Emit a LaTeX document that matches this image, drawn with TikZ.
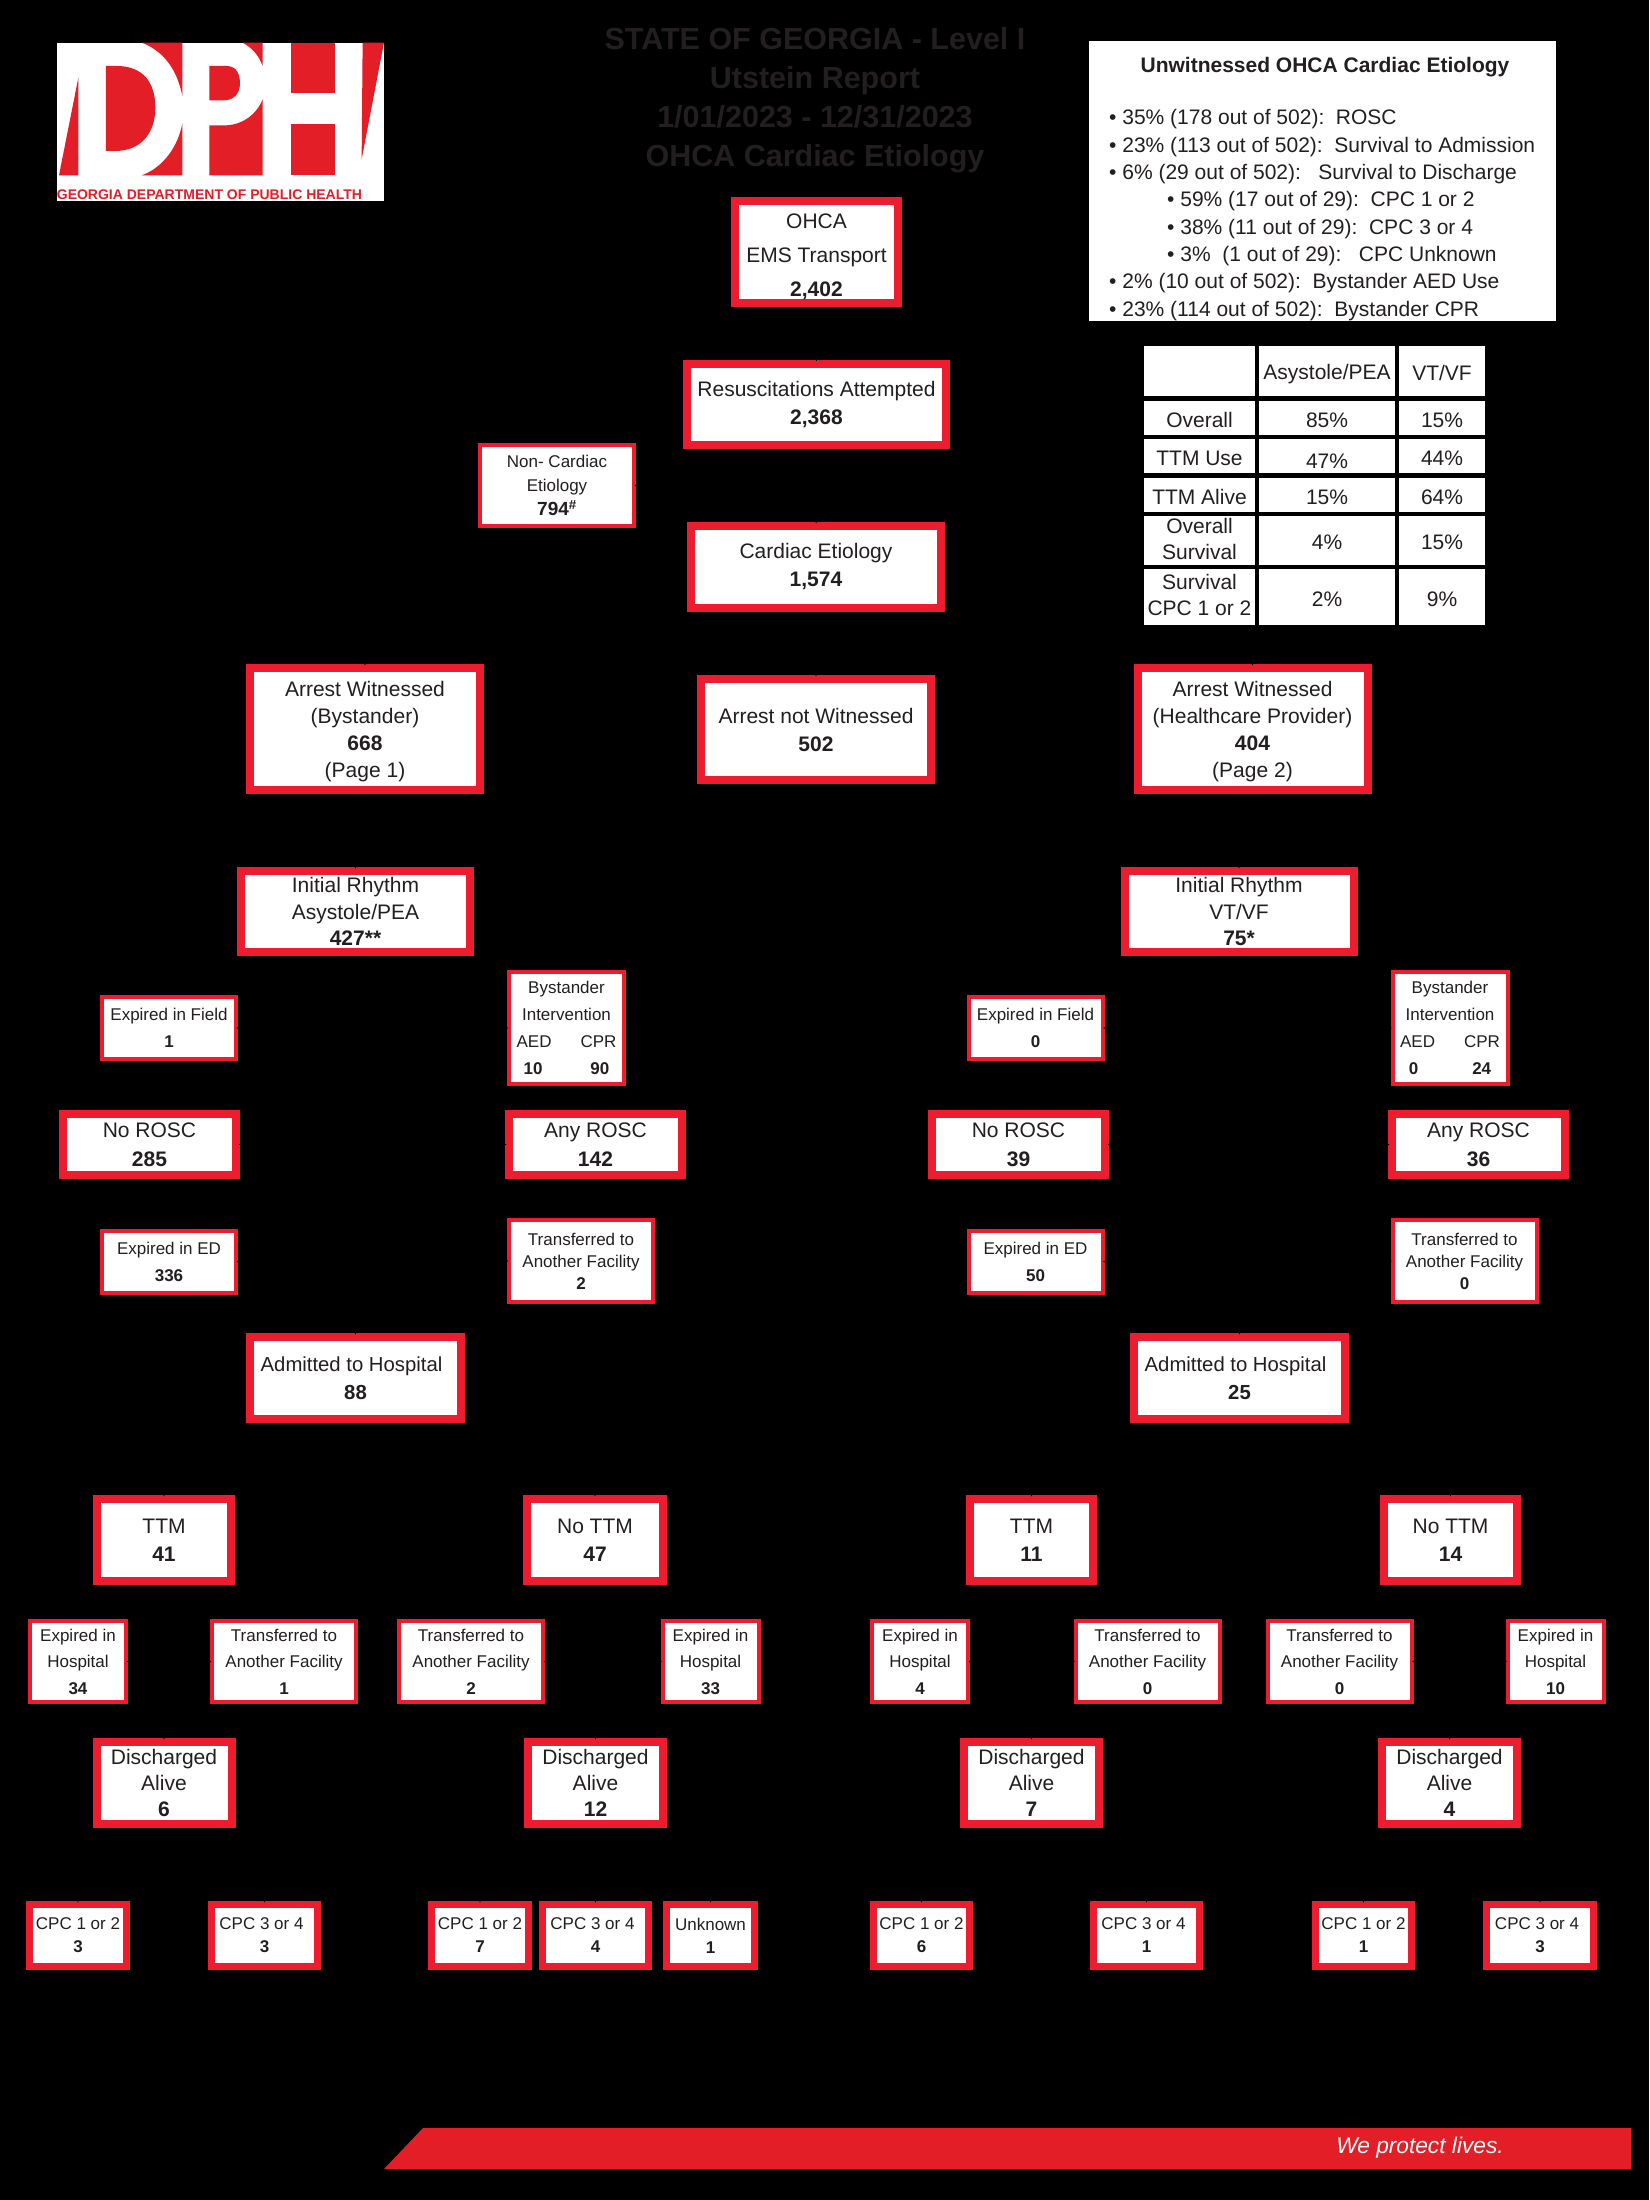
\documentclass[tikz,border=0pt]{standalone}
\usepackage{fontspec}
\setmainfont{Liberation Sans}
\usetikzlibrary{arrows.meta}
\definecolor{dphred}{HTML}{ED1C2E}
\definecolor{logored}{HTML}{E31E26}
\definecolor{ink}{HTML}{231F20}
\newcommand{\tope}{\leavevmode\vrule height .75\baselineskip depth .25\baselineskip width 0pt\relax}
\newcommand{\cellstrut}{\leavevmode\vrule height .85\baselineskip depth .15\baselineskip width 0pt\relax}
\newcommand{\logodph}[1]{%
  \begin{scope}[shift={(#1)}, x=0.3333pt, y=-0.3333pt]
    \fill[white] (20,20) rectangle (1002,495);
    \fill[logored] (85,125) -- (85,418) -- (27,418) -- cycle;
    \fill[logored] (168,90) -- (200,90) .. controls (280,90) and (316,140) .. (316,215) .. controls (316,295) and (270,345) .. (195,345) -- (168,345) -- cycle;
    \fill[logored] (275,20) -- (397,20) -- (397,180) .. controls (380,90) and (330,40) .. (275,20) -- cycle;
    \fill[logored] (397,262) -- (397,418) -- (275,418) .. controls (340,395) and (385,330) .. (397,262) -- cycle;
    \fill[logored] (478,90) -- (530,90) .. controls (560,90) and (570,115) .. (570,142) .. controls (570,175) and (550,193) .. (520,193) -- (478,193) -- cycle;
    \fill[logored] (578,20) -- (638,20) -- (638,90) .. controls (625,55) and (605,35) .. (578,20) -- cycle;
    \fill[logored] (478,268) -- (530,268) .. controls (580,265) and (620,235) .. (638,190) -- (638,418) -- (478,418) -- cycle;
    \fill[logored] (722,20) rectangle (855,172);
    \fill[logored] (722,263) rectangle (855,418);
    \fill[logored] (938,20) -- (1002,20) -- (935,370) -- cycle;
    \node[anchor=west, inner sep=0pt, text=logored, font=\fontsize{14}{16}\selectfont\bfseries] (logotext) at (20,477) {GEORGIA DEPARTMENT OF PUBLIC HEALTH};
  \end{scope}}

\begin{document}
\begin{tikzpicture}[x=1pt, y=-1pt,
  bigbox/.style={draw=dphred, line width=8pt, fill=white, inner sep=0pt, align=center, text=ink,
    font=\fontsize{21}{#1}\selectfont},
  bigbox/.default=28,
  cpcbox/.style={bigbox=23, line width=7pt, font=\fontsize{17}{23}\selectfont, minimum height=62pt},
  smallbox/.style={draw=dphred, line width=4pt, fill=white, inner sep=0pt, align=center, text=ink,
    font=\fontsize{17}{#1}\selectfont},
  smallbox/.default=27,
  roscbox/.style={bigbox=29, minimum width=173pt, minimum height=61pt},
  ttmbox/.style={bigbox=28, minimum height=82pt},
  dischbox/.style={bigbox=26, minimum width=135pt, minimum height=82pt},
  admbox/.style={bigbox=28, font=\fontsize{20.3}{28}\selectfont, minimum width=211pt, minimum height=82pt},
  arrestbox/.style={bigbox=27, minimum width=230pt, minimum height=122pt},
  initbox/.style={bigbox=26.5, minimum width=229pt, minimum height=81pt},
  fieldbox/.style={smallbox=27, minimum width=134pt, minimum height=62pt},
  bystbox/.style={smallbox=27, minimum width=115pt, minimum height=112pt},
  transbox/.style={smallbox=22, minimum width=144pt, minimum height=82pt},
  hospbox/.style={smallbox=26.5, minimum width=96pt, minimum height=81pt},
  hosptrans/.style={smallbox=26.5, minimum width=144pt, minimum height=81pt},
  cell/.style={fill=white, inner sep=0pt, align=center, text=ink, font=\fontsize{21}{26}\selectfont,
    execute at begin node=\cellstrut, execute at end node=\cellstrut},
  conn/.style={black, line width=1.5pt, -{Stealth[length=7pt, width=6pt]}, shorten >=-1.5pt},
  trunk/.style={black, line width=1.5pt}]
  \fill[black] (0,0) rectangle (1649,2200);
  \useasboundingbox (0,0) rectangle (1649,2200);
  \logodph{50,36}
  \node[align=center, text=ink, inner sep=0pt, font=\fontsize{30.5}{39}\selectfont\bfseries] (title) at (815,100.5)
    {STATE OF GEORGIA - Level I\\Utstein Report\\1/01/2023 - 12/31/2023\\OHCA Cardiac Etiology};

  \node[fill=white, inner sep=0pt, minimum width=467pt, minimum height=280pt] (statbox) at (1322.5,181) {};
  \node[inner sep=0pt, text=ink, font=\fontsize{21}{24}\selectfont\bfseries] (stathead) at (1325,67) {Unwitnessed OHCA Cardiac Etiology};
  \node[anchor=north west, align=left, inner sep=0pt, text=ink, font=\fontsize{21}{27.3}\selectfont,
    execute at begin node=\tope] (statlist) at (1109,109.5)
    {• 35\% (178 out of 502):\ \ ROSC\\
     • 23\% (113 out of 502):\ \ Survival to Admission\\
     • 6\% (29 out of 502):\ \ \ Survival to Discharge\\
     \hspace*{58pt}• 59\% (17 out of 29):\ \ CPC 1 or 2\\
     \hspace*{58pt}• 38\% (11 out of 29):\ \ CPC 3 or 4\\
     \hspace*{58pt}• 3\%\ \ (1 out of 29):\ \ \ CPC Unknown\\
     • 2\% (10 out of 502):\ \ Bystander AED Use\\
     • 23\% (114 out of 502):\ \ Bystander CPR};

  \node[cell, minimum width=111pt, minimum height=50pt] (c00) at (1199.5,371) {};
  \node[cell, minimum width=136pt, minimum height=50pt] (c01) at (1327,371) {Asystole/PEA};
  \node[cell, minimum width=86pt, minimum height=50pt] (c02) at (1442,371) {VT/VF};
  \node[cell, minimum width=111pt, minimum height=34pt] (c10) at (1199.5,418) {Overall};
  \node[cell, minimum width=136pt, minimum height=34pt] (c11) at (1327,418) {85\%};
  \node[cell, minimum width=86pt, minimum height=34pt] (c12) at (1442,418) {15\%};
  \node[cell, minimum width=111pt, minimum height=34pt] (c20) at (1199.5,456) {TTM Use};
  \node[cell, minimum width=136pt, minimum height=34pt] (c21) at (1327,456) {\raisebox{-3pt}{47\%}};
  \node[cell, minimum width=86pt, minimum height=34pt] (c22) at (1442,456) {44\%};
  \node[cell, minimum width=111pt, minimum height=34pt] (c30) at (1199.5,495) {TTM Alive};
  \node[cell, minimum width=136pt, minimum height=34pt] (c31) at (1327,495) {15\%};
  \node[cell, minimum width=86pt, minimum height=34pt] (c32) at (1442,495) {64\%};
  \node[cell, minimum width=111pt, minimum height=49pt] (c40) at (1199.5,540.5) {Overall\\Survival};
  \node[cell, minimum width=136pt, minimum height=49pt] (c41) at (1327,540.5) {4\%};
  \node[cell, minimum width=86pt, minimum height=49pt] (c42) at (1442,540.5) {15\%};
  \node[cell, minimum width=111pt, minimum height=56pt] (c50) at (1199.5,597) {Survival\\CPC 1 or 2};
  \node[cell, minimum width=136pt, minimum height=56pt] (c51) at (1327,597) {2\%};
  \node[cell, minimum width=86pt, minimum height=56pt] (c52) at (1442,597) {9\%};

  \node[bigbox=34, minimum width=163pt, minimum height=102pt] (ohca) at (816.5,252) {\rule{0pt}{25pt}OHCA\\EMS Transport\\\textbf{2,402}};
  \node[bigbox, minimum width=259pt, minimum height=81pt] (resus) at (816.5,404.5) {Resuscitations Attempted\\\textbf{2,368}};
  \node[smallbox=24, minimum width=154pt, minimum height=81pt] (noncard) at (557,485.5) {Non- Cardiac\\Etiology\\\fontsize{19}{24}\selectfont\textbf{794\textsuperscript{\#}}};
  \node[bigbox, minimum width=250pt, minimum height=82pt] (cardiac) at (816,567) {Cardiac Etiology\\\textbf{1,574}};
  \node[arrestbox] (witl) at (365,729) {Arrest Witnessed\\(Bystander)\\\textbf{668}\\\smash{(Page 1)}};
  \node[bigbox, minimum width=230pt, minimum height=101pt] (notwit) at (816,729.5) {Arrest not Witnessed\\\textbf{502}};
  \node[arrestbox] (witr) at (1252.5,729) {Arrest Witnessed\\(Healthcare Provider)\\\textbf{404}\\\smash{(Page 2)}};
  \node[initbox] (initl) at (355.5,911.5) {Initial Rhythm\\Asystole/PEA\\\textbf{427**}};
  \node[initbox] (initr) at (1239,911.5) {Initial Rhythm\\VT/VF\\\textbf{75*}};

  \node[fieldbox] (fieldl) at (169,1028) {Expired in Field\\\textbf{1}};
  \node[bystbox] (bystl) at (566.5,1028) {Bystander\\Intervention\\AED\hspace{29pt}CPR\\\textbf{10}\hspace{48pt}\textbf{90}};
  \node[roscbox] (noroscl) at (149.5,1144.5) {No ROSC\\\textbf{285}};
  \node[roscbox] (anyroscl) at (595.5,1144.5) {Any ROSC\\\textbf{142}};
  \node[fieldbox] (edl) at (169,1261.5) {Expired in ED\\\textbf{336}};
  \node[transbox] (transl) at (581,1261) {Transferred to\\Another Facility\hspace*{4pt}\\\textbf{2}};
  \node[admbox] (adml) at (355.5,1378) {Admitted to Hospital\hspace*{8pt}\\\textbf{88}};

  \node[fieldbox] (fieldr) at (1035.5,1028) {Expired in Field\\\textbf{0}};
  \node[bystbox] (bystr) at (1450,1028) {Bystander\\Intervention\\AED\hspace{29pt}CPR\\\textbf{0}\hspace{54pt}\textbf{24}};
  \node[roscbox] (noroscr) at (1018.5,1144.5) {No ROSC\\\textbf{39}};
  \node[roscbox] (anyroscr) at (1478.5,1144.5) {Any ROSC\\\textbf{36}};
  \node[fieldbox] (edr) at (1035.5,1261.5) {Expired in ED\\\textbf{50}};
  \node[transbox] (transr) at (1464.5,1261) {Transferred to\\Another Facility\hspace*{4pt}\\\textbf{0}};
  \node[admbox] (admr) at (1239.5,1378) {Admitted to Hospital\hspace*{8pt}\\\textbf{25}};

  \node[ttmbox, minimum width=134pt] (ttma) at (164,1540) {TTM\\\textbf{41}};
  \node[ttmbox, minimum width=136pt] (ttmb) at (595,1540) {No TTM\\\textbf{47}};
  \node[ttmbox, minimum width=123pt] (ttmc) at (1031.5,1540) {TTM\\\textbf{11}};
  \node[ttmbox, minimum width=133pt] (ttmd) at (1450.5,1540) {No TTM\\\textbf{14}};

  \node[hospbox] (expa) at (78,1661.5) {Expired in\\Hospital\\\textbf{34}};
  \node[hosptrans] (tra) at (284,1661.5) {Transferred to\\Another Facility\\\textbf{1}};
  \node[hosptrans] (trb) at (471,1661.5) {Transferred to\\Another Facility\\\textbf{2}};
  \node[hospbox] (expb) at (710.5,1661.5) {Expired in\\Hospital\\\textbf{33}};
  \node[hospbox] (expc) at (920,1661.5) {Expired in\\Hospital\\\textbf{4}};
  \node[hosptrans] (trc) at (1147.5,1661.5) {Transferred to\\Another Facility\\\textbf{0}};
  \node[hosptrans] (trd) at (1339.5,1661.5) {Transferred to\\Another Facility\\\textbf{0}};
  \node[hospbox] (expd) at (1555.5,1661.5) {Expired in\\Hospital\\\textbf{10}};

  \node[dischbox] (disa) at (164,1783) {Discharged\\Alive\\\textbf{6}};
  \node[dischbox] (disb) at (595.5,1783) {Discharged\\Alive\\\textbf{12}};
  \node[dischbox] (disc) at (1031.5,1783) {Discharged\\Alive\\\textbf{7}};
  \node[dischbox] (disd) at (1449.5,1783) {Discharged\\Alive\\\textbf{4}};

  \node[cpcbox, minimum width=97pt] (cpca) at (78,1935.5) {CPC 1 or 2\\\textbf{3}};
  \node[cpcbox, minimum width=106pt] (cpcb) at (264.5,1935.5) {CPC 3 or 4\hspace*{6pt}\\\textbf{3}};
  \node[cpcbox, minimum width=97pt] (cpcc) at (480,1935.5) {CPC 1 or 2\\\textbf{7}};
  \node[cpcbox, minimum width=106pt] (cpcd) at (595.5,1935.5) {CPC 3 or 4\hspace*{6pt}\\\textbf{4}};
  \node[cpcbox, minimum width=88pt] (unk) at (710.5,1935.5) {Unknown\\\textbf{1}};
  \node[cpcbox, minimum width=96pt] (cpce) at (921.5,1935.5) {CPC 1 or 2\\\textbf{6}};
  \node[cpcbox, minimum width=106pt] (cpcf) at (1146.5,1935.5) {CPC 3 or 4\hspace*{6pt}\\\textbf{1}};
  \node[cpcbox, minimum width=96pt] (cpcg) at (1363.5,1935.5) {CPC 1 or 2\\\textbf{1}};
  \node[cpcbox, minimum width=107pt] (cpch) at (1540,1935.5) {CPC 3 or 4\hspace*{6pt}\\\textbf{3}};

  \coordinate (buswit) at (816,640);
  \coordinate (businit) at (816,825);
  \coordinate (busttml) at (355.5,1455);
  \coordinate (busttmr) at (1239.5,1455);
  \coordinate (busa) at (164,1865);
  \coordinate (busb) at (595.5,1865);
  \coordinate (busc) at (1031.5,1865);
  \coordinate (busd) at (1449.5,1865);

  \draw[conn] (ohca) -- (resus);
  \draw[conn] (resus) -- (cardiac);
  \draw[conn] (resus.south |- noncard.east) -- (noncard.east);
  \draw[conn] (cardiac) -- (notwit);
  \draw[conn] (buswit) -| (witl.north);
  \draw[conn] (buswit) -| (witr.north);
  \draw[trunk] (notwit.south) -- (businit);
  \draw[conn] (businit) -| (initl.north);
  \draw[conn] (businit) -| (initr.north);

  \draw[conn] (initl.south) -- (adml.north);
  \draw[conn] (initl.south |- fieldl.east) -- (fieldl.east);
  \draw[conn] (initl.south |- bystl.west) -- (bystl.west);
  \draw[conn] (initl.south |- noroscl.east) -- (noroscl.east);
  \draw[conn] (initl.south |- anyroscl.west) -- (anyroscl.west);
  \draw[conn] (initl.south |- edl.east) -- (edl.east);
  \draw[conn] (initl.south |- transl.west) -- (transl.west);

  \draw[conn] (initr.south) -- (admr.north);
  \draw[conn] (initr.south |- fieldr.east) -- (fieldr.east);
  \draw[conn] (initr.south |- bystr.west) -- (bystr.west);
  \draw[conn] (initr.south |- noroscr.east) -- (noroscr.east);
  \draw[conn] (initr.south |- anyroscr.west) -- (anyroscr.west);
  \draw[conn] (initr.south |- edr.east) -- (edr.east);
  \draw[conn] (initr.south |- transr.west) -- (transr.west);

  \draw[trunk] (adml.south) -- (busttml);
  \draw[conn] (busttml) -| (ttma.north);
  \draw[conn] (busttml) -| (ttmb.north);
  \draw[trunk] (admr.south) -- (busttmr);
  \draw[conn] (busttmr) -| (ttmc.north);
  \draw[conn] (busttmr) -| (ttmd.north);

  \draw[conn] (ttma) -- (disa);
  \draw[conn] (ttma.south |- expa.east) -- (expa.east);
  \draw[conn] (ttma.south |- tra.west) -- (tra.west);
  \draw[conn] (ttmb) -- (disb);
  \draw[conn] (ttmb.south |- trb.east) -- (trb.east);
  \draw[conn] (ttmb.south |- expb.west) -- (expb.west);
  \draw[conn] (ttmc) -- (disc);
  \draw[conn] (ttmc.south |- expc.east) -- (expc.east);
  \draw[conn] (ttmc.south |- trc.west) -- (trc.west);
  \draw[conn] (ttmd) -- (disd);
  \draw[conn] (ttmd.south |- trd.east) -- (trd.east);
  \draw[conn] (ttmd.south |- expd.west) -- (expd.west);

  \draw[trunk] (disa.south) -- (busa);
  \draw[conn] (busa) -| (cpca.north);
  \draw[conn] (busa) -| (cpcb.north);
  \draw[trunk] (disb.south) -- (busb);
  \draw[conn] (busb) -| (cpcc.north);
  \draw[conn] (busb) -- (cpcd.north);
  \draw[conn] (busb) -| (unk.north);
  \draw[trunk] (disc.south) -- (busc);
  \draw[conn] (busc) -| (cpce.north);
  \draw[conn] (busc) -| (cpcf.north);
  \draw[trunk] (disd.south) -- (busd);
  \draw[conn] (busd) -| (cpcg.north);
  \draw[conn] (busd) -| (cpch.north);

  \fill[logored] (384,2169) -- (423,2128) -- (1631,2128) -- (1631,2169) -- cycle;
  \node[inner sep=0pt, text=white, font=\fontsize{22.7}{26}\selectfont\itshape] (lema) at (1420,2148) {We protect lives.};
\end{tikzpicture}
\end{document}
